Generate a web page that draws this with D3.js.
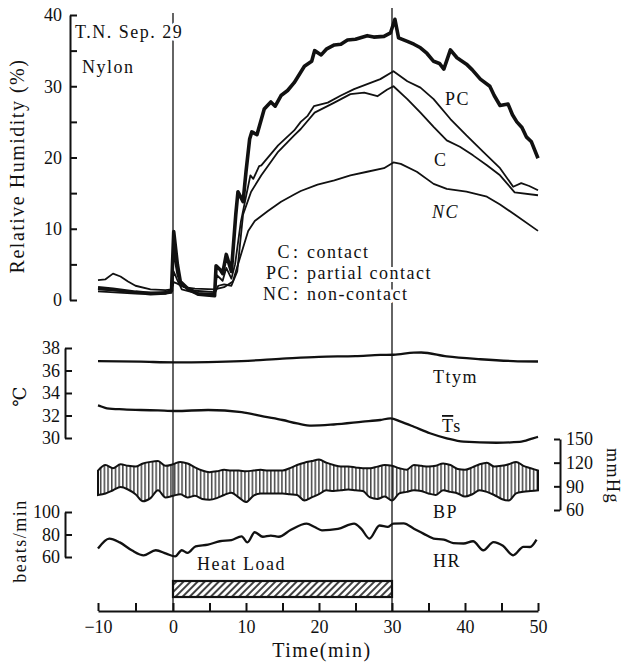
<!DOCTYPE html>
<html lang="en">
<head>
<meta charset="UTF-8">
<title>T.N. Sep. 29 - Nylon</title>
<style>
  body { margin: 0; background: #fff; }
  svg { display: block; font-family: "Liberation Serif", "DejaVu Serif", serif; }
  .axis path, .axis line { stroke: #111; stroke-width: 2; }
  .axis text { font-size: 18px; fill: #111; font-family: "Liberation Serif", serif; }
  .lbl { font-size: 18px; fill: #111; letter-spacing: 1.5px; }
  .halo { stroke: #fff; stroke-width: 6px; paint-order: stroke; stroke-linejoin: round; }
  .trace { fill: none; stroke: #111; stroke-linejoin: round; }
</style>
</head>
<body>
<svg id="chart" width="622" height="663"></svg>
<script src="https://d3js.org/d3.v7.min.js"></script>
<script>
// relative humidity (%), [time (min), value]
const bold = [[-10,1.7],[-8,1.5],[-5,1.1],[-3,0.9],[-1,1.0],[-0.2,1.3],[0.1,9.6],[0.6,5.0],[1,2.6],[2,1.6],
  [3.5,0.8],[5.7,0.6],[5.9,4.8],[6.5,4.2],[6.8,3.7],[7.3,6.4],[8,4.0],[8.6,12.0],[8.9,15.2],[9.6,13.8],
  [10,18.0],[10.5,22.6],[10.8,23.6],[11.5,23.2],[12.5,26.8],[13.4,27.8],[14,27.2],[14.8,28.7],[15.7,29.4],[16.6,30.5],
  [18,32.8],[19,33.5],[19.4,35.0],[20.3,34.4],[21,35.2],[22.1,35.8],[23,35.9],[23.9,36.5],[25,36.6],[26.6,37.1],
  [27.5,36.9],[28.9,37.0],[29.8,37.5],[30.4,39.4],[30.9,36.8],[32.1,36.3],[33,35.9],[33.9,35.4],[34.8,34.6],[35.7,33.5],
  [36.5,33.2],[37.1,32.4],[38,35.1],[38.9,34.0],[40.2,33.1],[41,32.3],[42.1,31.0],[43.4,30.0],[44,28.7],[44.8,27.3],
  [45.9,27.5],[46.5,26.0],[47.1,25.0],[47.8,24.2],[48.4,22.9],[49.1,22.2],[50,19.9]];
const pc = [[-10,1.5],[-5,1.1],[-1,1.0],[-0.2,1.2],[0.1,6.5],[0.6,3.5],[1.2,2.0],[3,1.3],[5.7,1.1],[6,3.5],
  [6.8,2.7],[7.3,4.5],[8,3.0],[8.5,5.0],[9.3,11.0],[10,14.5],[10.6,17.5],[11,17.0],[11.8,18.8],[12.1,18.9],
  [14.4,21.7],[16.6,23.8],[17.5,25.0],[18.4,25.8],[19.3,27.2],[21.2,27.7],[23,28.7],[24.8,29.6],[26.6,30.3],[28.4,31.0],
  [30.2,32.1],[32.1,30.7],[33.9,29.8],[35.7,28.2],[38,25.4],[40.2,23.1],[42.5,20.8],[44.8,18.5],[46.6,15.9],[47.7,16.4],
  [48.8,16.0],[50,15.4]];
const c = [[-10,1.2],[-5,0.9],[-1,0.9],[-0.2,1.0],[0.1,4.0],[0.6,2.8],[1.2,1.5],[3,1.0],[5.7,0.9],[6.2,2.0],
  [7,2.2],[8,2.0],[8.8,4.0],[9.6,12.0],[10.7,15.2],[12.1,17.5],[14.4,20.8],[16.6,23.1],[17.5,24.0],[19.4,26.3],
  [22.1,27.7],[24.3,28.9],[26.2,29.1],[28,28.6],[29.3,29.5],[30.2,30.0],[32.1,28.2],[33.9,26.3],[35.7,24.3],[37.5,22.4],
  [39.3,21.5],[41.1,20.3],[43,18.9],[44.8,17.5],[46.8,15.1],[50,14.7]];
const nc = [[-10,2.8],[-9,2.9],[-8,3.7],[-7,3.3],[-6,2.6],[-5,2.0],[-3,1.5],[-1,1.4],[-0.2,1.5],[0.1,2.5],
  [0.6,2.3],[1.5,1.8],[3,1.6],[5.7,1.5],[7,1.8],[8.2,2.6],[8.9,5.0],[10.3,9.7],[11.2,11.1],[13,12.5],
  [14.8,13.8],[16.6,14.8],[17.5,15.3],[19.8,16.2],[22.1,16.8],[24.3,17.5],[26.6,18.0],[28.9,18.5],[30.2,19.3],[31.2,19.1],
  [33.4,18.0],[35.7,16.3],[37.5,15.6],[40.2,15.2],[43,14.5],[44.8,13.4],[47.1,11.8],[50,9.7]];

// temperatures (deg C)
const ttym = [[-10,36.84],[-4.3,36.78],[0.3,36.72],[4.8,36.75],[9.4,36.84],[15,37.05],[20,37.22],[25,37.28],
  [28.4,37.38],[30.2,37.4],[33,37.58],[34,37.6],[37.5,37.25],[42.1,37.0],[46.6,36.84],[50,36.8]];
const ts = [[-10,32.9],[-9.7,32.84],[-8.8,32.64],[-6.6,32.55],[-4.3,32.49],[-2,32.45],[0.3,32.4],[4.8,32.49],
  [9.4,32.3],[12.5,31.9],[15,31.6],[17,31.3],[19,31.1],[22,31.2],[26,31.45],[28.4,31.6],[29.8,31.75],[31.2,31.45],
  [33,31.0],[35.2,30.42],[37.5,29.97],[39.8,29.67],[44.3,29.58],[47.5,29.65],[49.3,29.97],[50,30.1]];

// blood pressure (mmHg): [time, systolic, diastolic]
const bp = [[-10,110,79],[-9,117,81],[-8,113,85],[-7,118,89],[-6,116,86],[-5,115,80],[-4,119,71],[-3,121,75],
  [-2,122,85],[-1,116,76],[0,118,78],[1,121,80],[2,119,76],[3,114,78],[4,110,74],[5,108,73],[6,109,75],
  [7,111,79],[8,110,82],[9,110,76],[10,109,70],[11,110,78],[12,111,81],[13,110,81],[14,110,81],[15,110,81],
  [16,113,80],[17,117,79],[18,120,72],[19,122,76],[20,124,80],[21,120,85],[22,117,84],[23,115,85],[24,115,86],
  [25,114,85],[26,113,84],[27,113,76],[28,115,74],[29,117,77],[30,116,72],[31,113,81],[32,111,83],[33,117,85],
  [34,116,84],[35,115,81],[36,116,79],[37,119,85],[38,117,83],[39,112,81],[40,111,77],[41,114,80],[42,118,85],
  [43,120,83],[44,115,79],[45,116,74],[46,118,72],[47,121,81],[48,116,83],[49,113,84],[50,110,85]];

// heart rate (beats/min)
const hr = [[-10,67.5],[-8.5,76.4],[-7.1,73],[-5.5,66],[-3.9,61.5],[-2.3,66],[-0.9,63],[0.3,60.6],[1.2,66],[2,63.6],
  [3.1,69.5],[4.8,71],[6.4,74],[8,75],[9.4,78.4],[10.2,73],[11.2,82],[12.3,78],[13.4,79],[14.5,78],
  [16.1,84],[18.3,89.7],[19.4,86.7],[20.4,83.7],[22.6,85],[24.8,89.7],[25.8,85],[26.9,76.4],[28.3,88],[29.4,86.7],
  [30.2,89.7],[31.6,89.9],[33,85.2],[34.3,80.8],[35.7,76.4],[37.1,75.5],[38.4,72.4],[39.8,72],[41.1,74],[42.5,66],
  [43.9,73.3],[45.2,70],[46.6,61.5],[48,69],[48.9,68.9],[49.8,75.5]];

const heatLoad = [0, 30];
const timeTicks = [-10,-5,0,5,10,15,20,25,30,35,40,45,50];
const rhTicks = [0,5,10,15,20,25,30,35,40];
const tempTicks = [30,32,34,36,38];
const bpTicks = [60,90,120,150];
const hrTicks = [60,80,100];
const legend = [["C","contact"],["PC","partial contact"],["NC","non-contact"]];

const svg = d3.select("#chart");

// scales (the scanned time axis is slightly uneven, so piecewise)
const x = d3.scaleLinear().domain([-10, 0, 30, 50]).range([98, 173, 392, 538]);
const yRH = d3.scaleLinear().domain([0, 40]).range([300, 15]);
const yT = d3.scaleLinear().domain([30, 38]).range([438, 348]);
const yBP = d3.scaleLinear().domain([60, 150]).range([510, 439]);
const yHR = d3.scaleLinear().domain([60, 100]).range([557, 512]);

// patterns
const defs = svg.append("defs");
defs.append("pattern").attr("id", "vhatch").attr("patternUnits", "userSpaceOnUse")
  .attr("width", 3.7).attr("height", 10)
  .append("line").attr("x1", 0.8).attr("x2", 0.8).attr("y1", 0).attr("y2", 10)
  .attr("stroke", "#111").attr("stroke-width", 1.2);
defs.append("pattern").attr("id", "dhatch").attr("patternUnits", "userSpaceOnUse")
  .attr("width", 5).attr("height", 10).attr("patternTransform", "rotate(45)")
  .append("line").attr("x1", 1).attr("x2", 1).attr("y1", 0).attr("y2", 10)
  .attr("stroke", "#111").attr("stroke-width", 1.6);

// heat load bar
svg.append("rect")
  .attr("x", x(heatLoad[0])).attr("y", 581)
  .attr("width", x(heatLoad[1]) - x(heatLoad[0])).attr("height", 16)
  .attr("fill", "url(#dhatch)").attr("stroke", "#111").attr("stroke-width", 2.2);

// heat load start / end markers
svg.append("line").attr("x1", x(0)).attr("x2", x(0)).attr("y1", 13).attr("y2", 611)
  .attr("stroke", "#111").attr("stroke-width", 1.3);
svg.append("line").attr("x1", x(30)).attr("x2", x(30)).attr("y1", 8).attr("y2", 611)
  .attr("stroke", "#111").attr("stroke-width", 1.3);

// axes
svg.append("g").attr("class", "axis").attr("transform", "translate(70,0)")
  .call(d3.axisLeft(yRH).tickValues(rhTicks).tickSizeInner(-7).tickSizeOuter(0).tickPadding(8)
    .tickFormat(d => d % 10 === 0 ? d : ""));
svg.append("g").attr("class", "axis").attr("transform", "translate(65,0)")
  .call(d3.axisLeft(yT).tickValues(tempTicks).tickSizeInner(-7).tickSizeOuter(0).tickPadding(5));
svg.append("g").attr("class", "axis").attr("transform", "translate(65,0)")
  .call(d3.axisLeft(yHR).tickValues(hrTicks).tickSizeInner(-7).tickSizeOuter(0).tickPadding(5));
svg.append("g").attr("class", "axis").attr("transform", "translate(560,0)")
  .call(d3.axisRight(yBP).tickValues(bpTicks).tickSizeInner(-6).tickSizeOuter(0).tickPadding(6));
svg.append("g").attr("class", "axis").attr("transform", "translate(0,611)")
  .call(d3.axisBottom(x).tickValues(timeTicks).tickSizeInner(-8).tickSizeOuter(0).tickPadding(9)
    .tickFormat(d => d % 10 === 0 ? d3.format("d")(d) : ""));

// humidity traces
const rhLine = d3.line().x(d => x(d[0])).y(d => yRH(d[1]));
[[nc, 1.8], [c, 1.8], [pc, 1.8], [bold, 3.6]].forEach(([s, w]) => {
  svg.append("path").datum(s).attr("class", "trace").attr("stroke-width", w).attr("d", rhLine);
});

// temperature traces
const tLine = d3.line().curve(d3.curveMonotoneX).x(d => x(d[0])).y(d => yT(d[1]));
[ttym, ts].forEach(s => {
  svg.append("path").datum(s).attr("class", "trace").attr("stroke-width", 2.3).attr("d", tLine);
});

// blood pressure band
svg.append("path").datum(bp)
  .attr("fill", "url(#vhatch)").attr("stroke", "#111").attr("stroke-width", 2)
  .attr("d", d3.area().curve(d3.curveMonotoneX).x(d => x(d[0])).y0(d => yBP(d[2])).y1(d => yBP(d[1])));

// heart rate
svg.append("path").datum(hr).attr("class", "trace").attr("stroke-width", 2.3)
  .attr("d", d3.line().curve(d3.curveMonotoneX).x(d => x(d[0])).y(d => yHR(d[1])));

// texts
const txt = (s, tx, ty, cls) => svg.append("text").attr("class", "lbl " + (cls || "")).attr("x", tx).attr("y", ty).text(s);
txt("T.N. Sep. 29", 75, 38, "halo");
txt("Nylon", 82, 73);
txt("PC", 445, 105);
txt("C", 434, 166);
txt("NC", 432, 218).style("font-style", "italic");

const lg = svg.append("g");
legend.forEach((d, i) => {
  const ly = 258 + i * 21;
  lg.append("text").attr("class", "lbl halo").attr("x", 291).attr("y", ly).attr("text-anchor", "end").text(d[0]);
  lg.append("text").attr("class", "lbl halo").attr("x", 293).attr("y", ly).text(":");
  lg.append("text").attr("class", "lbl halo").attr("x", 307).attr("y", ly).text(d[1]);
});

txt("Ttym", 433, 383);
const tsLabel = svg.append("text").attr("class", "lbl").attr("x", 442).attr("y", 432);
tsLabel.append("tspan").style("text-decoration", "overline").text("T");
tsLabel.append("tspan").text("s");
txt("BP", 433, 518);
txt("HR", 433, 567);
txt("Heat Load", 197, 570);

svg.append("text").attr("class", "lbl").attr("text-anchor", "middle")
  .attr("transform", "translate(24,166) rotate(-90)").style("font-size", "20px").text("Relative Humidity (%)");
svg.append("text").attr("class", "lbl").attr("text-anchor", "middle")
  .attr("transform", "translate(26,396) rotate(-90)").text("℃");
svg.append("text").attr("class", "lbl").attr("text-anchor", "middle")
  .attr("transform", "translate(26,541) rotate(-90)").text("beats/min");
svg.append("text").attr("class", "lbl").attr("text-anchor", "middle")
  .attr("transform", "translate(607,476) rotate(90)").text("mmHg");
svg.append("text").attr("class", "lbl").attr("text-anchor", "middle")
  .attr("x", 322).attr("y", 657).style("font-size", "20px").text("Time(min)");
</script>
</body>
</html>
